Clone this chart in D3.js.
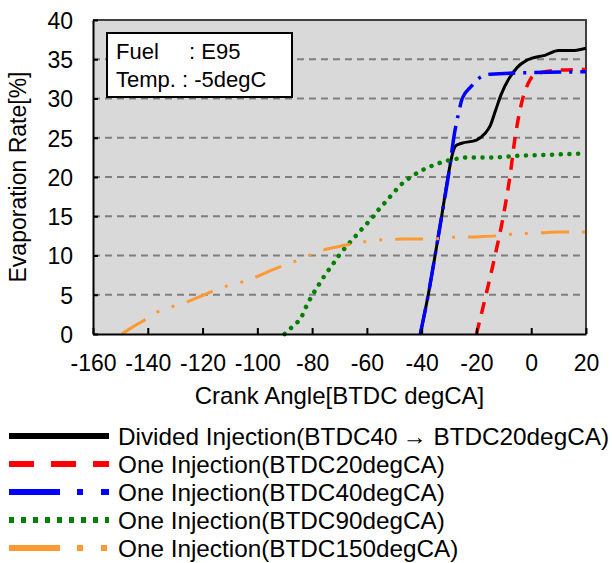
<!DOCTYPE html>
<html>
<head>
<meta charset="utf-8">
<script src="https://cdn.jsdelivr.net/npm/d3@7"></script>
<style>
  body { margin: 0; background: #fff; }
  text { font-family: Arial, "Liberation Sans", sans-serif; fill: #000; }
</style>
</head>
<body>
<div id="chart"></div>
<script>
const width = 612;
const height = 563;

// Divided injection (BTDC40 -> BTDC20)
const dividedAngle = [-40.5, -37.6, -35.1, -32.7, -30.4, -29, -27.5, -25.4, -20, -17, -15, -13, -11, -8, -5, -2, 0, 5, 10, 15, 20];
const dividedRate  = [0, 5, 10, 15, 20, 22.6, 24, 24.3, 24.7, 25.5, 26.5, 28.5, 30.5, 32.6, 34, 34.8, 35.1, 35.5, 36.1, 36.1, 36.4];
// one injection BTDC20
const btdc20Angle = [-20, -16.5, -13.2, -10.2, -7.8, -5.9, -3.1, -1, 1, 5, 10, 20];
const btdc20Rate  = [0, 5, 10, 15, 20, 25, 30, 32, 33, 33.4, 33.6, 33.7];
// one injection BTDC40
const btdc40Angle = [-40.5, -37.6, -35.1, -32.7, -30.3, -27.8, -26.6, -25.2, -22, -19, -15, 0, 20];
const btdc40Rate  = [0, 5, 10, 15, 20, 26, 28, 30, 31.5, 32.6, 33.1, 33.3, 33.4];
// one injection BTDC90
const btdc90Angle = [-90, -87, -84, -82, -80, -77.7, -75.3, -72.6, -70.2, -67.4, -64.3, -61.5, -58.6, -55.8, -53, -50, -47, -43.5, -39.6, -35.7, -31.5, -27.5, -23, -14, -5, 4, 12, 20];
const btdc90Rate  = [0, 1, 2.1, 3.6, 4.9, 6.2, 7.5, 8.8, 10, 11.2, 12.4, 13.5, 14.6, 15.8, 16.9, 18.1, 19.2, 20.1, 20.9, 21.5, 22, 22.3, 22.5, 22.5, 22.7, 22.8, 22.9, 23];
// one injection BTDC150
const btdc150Angle = [-149.5, -145, -141, -136.5, -131, -125.6, -120, -116, -110.5, -105, -99.5, -95, -90, -84.4, -79.2, -73.7, -68, -63.5, -57.7, -52, -46, -36, -30, -24, -18.7, -13, -7.8, -2.3, 3.8, 9.3, 20];
const btdc150Rate  = [0, 1, 1.8, 2.8, 3.5, 4.1, 4.9, 5.5, 6.2, 6.7, 7.4, 8.1, 8.8, 9.5, 10.3, 10.9, 11.3, 11.6, 11.9, 12.05, 12.1, 12.1, 12.3, 12.35, 12.4, 12.5, 12.7, 12.8, 12.9, 13, 13];

const xTicks = [-160, -140, -120, -100, -80, -60, -40, -20, 0, 20];
const yTicks = [0, 5, 10, 15, 20, 25, 30, 35, 40];

const seriesNames = [
    "Divided Injection(BTDC40\u2009\u2192 BTDC20degCA)",
    "One Injection(BTDC20degCA)",
    "One Injection(BTDC40degCA)",
    "One Injection(BTDC90degCA)",
    "One Injection(BTDC150degCA)"
];

const series = [
    { angle: dividedAngle, rate: dividedRate, color: "#000000", w: 3, dash: null, legDash: null, cap: "butt" },
    { angle: btdc20Angle, rate: btdc20Rate, color: "#ff0000", w: 3.5, dash: "12,9", legDash: "25,17", cap: "butt" },
    { angle: btdc40Angle, rate: btdc40Rate, color: "#0000ff", w: 3.5, dash: "27,8,3,8", legDash: "51,17,6,18", cap: "butt" },
    { angle: btdc90Angle, rate: btdc90Rate, color: "#008000", w: 4.5, dash: "0.1,8.6", legDash: "5,7", cap: "round" },
    { angle: btdc150Angle, rate: btdc150Rate, color: "#ff9933", w: 3, dash: "28,13,3,13,3,13", legDash: "51,17,6,18,6,20", cap: "butt" }
];

const plot = { left: 93, right: 586, top: 20, bottom: 334 };

const x = d3.scaleLinear().domain([-160, 20]).range([plot.left, plot.right]);
const y = d3.scaleLinear().domain([0, 40]).range([plot.bottom, plot.top]);

const svg = d3.select("#chart")
    .append("svg")
    .attr("width", width)
    .attr("height", height);

// plot background
svg.append("rect")
    .attr("x", plot.left).attr("y", plot.top)
    .attr("width", plot.right - plot.left)
    .attr("height", plot.bottom - plot.top)
    .attr("fill", "#d9d9d9");

// grid lines
svg.append("g")
    .selectAll("line")
    .data(yTicks.filter(d => d > 0 && d < 40))
    .join("line")
    .attr("x1", plot.left).attr("x2", plot.right)
    .attr("y1", d => y(d)).attr("y2", d => y(d))
    .attr("stroke", "#7f7f7f")
    .attr("stroke-width", 2)
    .attr("stroke-dasharray", "7,5");

// top / right border
svg.append("path")
    .attr("d", `M${plot.left},${plot.top}H${plot.right}V${plot.bottom}`)
    .attr("fill", "none")
    .attr("stroke", "#404040")
    .attr("stroke-width", 2);

// curves
const line = d3.line()
    .x(d => x(d[0]))
    .y(d => y(d[1]))
    .curve(d3.curveMonotoneX);

svg.append("g")
    .selectAll("path")
    .data(series)
    .join("path")
    .attr("d", s => line(s.angle.map((a, i) => [a, s.rate[i]])))
    .attr("fill", "none")
    .attr("stroke", s => s.color)
    .attr("stroke-width", s => s.w)
    .attr("stroke-linecap", s => s.cap)
    .attr("stroke-dasharray", s => s.dash);

// axes
const xAxis = svg.append("g")
    .attr("transform", `translate(0,${plot.bottom})`)
    .call(d3.axisBottom(x).tickValues(xTicks).tickSizeInner(-6).tickSizeOuter(0).tickPadding(21));
const yAxis = svg.append("g")
    .attr("transform", `translate(${plot.left},0)`)
    .call(d3.axisLeft(y).tickValues(yTicks).tickSizeInner(-5).tickSizeOuter(0).tickPadding(20));

[xAxis, yAxis].forEach(g => {
    g.select(".domain").attr("stroke", "#000").attr("stroke-width", 2);
    g.selectAll(".tick line").attr("stroke", "#000").attr("stroke-width", 2);
    g.selectAll(".tick text")
        .attr("fill", "#000")
        .style("font-size", "23px")
        .style("font-family", "Arial, 'Liberation Sans', sans-serif");
});
xAxis.selectAll(".tick text").text(d => d < 0 ? "-" + Math.abs(d) : d);
yAxis.selectAll(".tick text").attr("dy", "0.36em");

// axis titles
svg.append("text")
    .attr("x", (plot.left + plot.right) / 2)
    .attr("y", 404)
    .attr("text-anchor", "middle")
    .style("font-size", "24px")
    .text("Crank Angle[BTDC degCA]");

svg.append("text")
    .attr("transform", `translate(26,${(plot.top + plot.bottom) / 2}) rotate(-90)`)
    .attr("text-anchor", "middle")
    .style("font-size", "23px")
    .text("Evaporation Rate[%]");

// condition box
svg.append("rect")
    .attr("x", 107).attr("y", 33)
    .attr("width", 185).attr("height", 64)
    .attr("fill", "#fff")
    .attr("stroke", "#000")
    .attr("stroke-width", 2);
svg.append("text").attr("x", 116).attr("y", 59).style("font-size", "22px").text("Fuel");
svg.append("text").attr("x", 189).attr("y", 59).style("font-size", "22px").text(": E95");
svg.append("text").attr("x", 116).attr("y", 87).style("font-size", "22px").text("Temp. : -5degC");

// legend
const legend = svg.append("g")
    .selectAll("g")
    .data(series)
    .join("g")
    .attr("transform", (d, i) => `translate(0,${436 + i * 28})`);

legend.append("line")
    .attr("x1", 9).attr("x2", 109)
    .attr("y1", 0).attr("y2", 0)
    .attr("stroke", d => d.color)
    .attr("stroke-width", 6)
    .attr("stroke-dasharray", d => d.legDash);

legend.append("text")
    .attr("x", 118)
    .attr("dy", "0.36em")
    .style("font-size", "24.3px")
    .text((d, i) => seriesNames[i]);
</script>
</body>
</html>
